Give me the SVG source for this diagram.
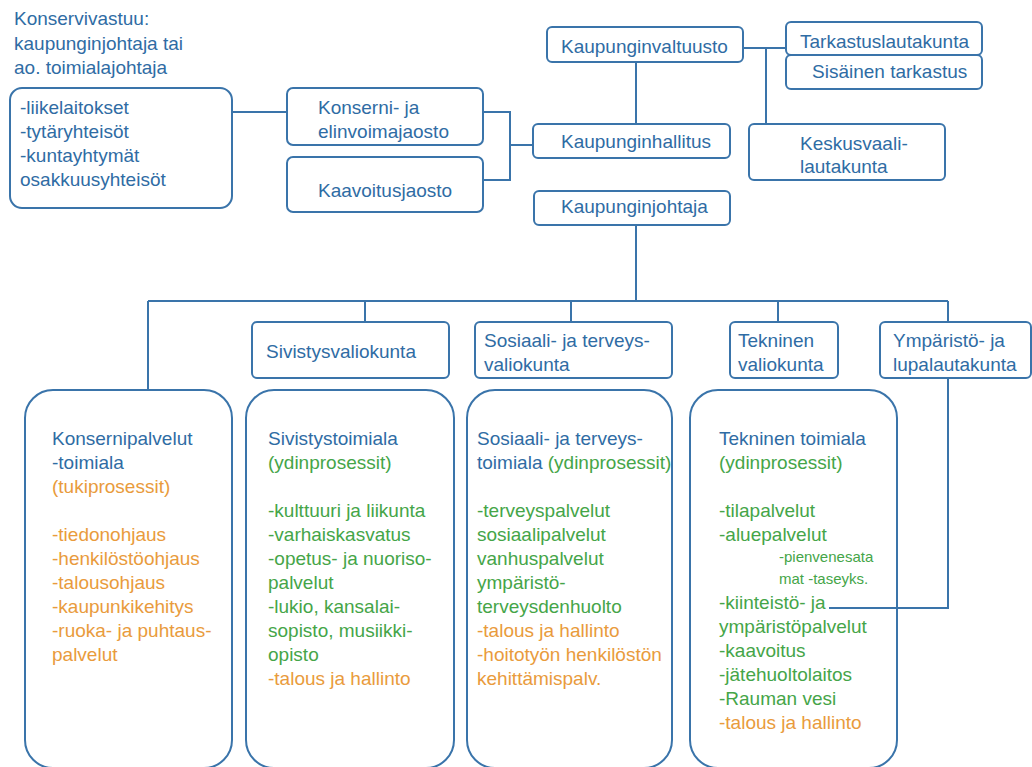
<svg xmlns="http://www.w3.org/2000/svg" width="1032" height="767" viewBox="0 0 1032 767">
<style>
text{font-family:"Liberation Sans",Arial,sans-serif;font-size:19px;fill:#2f6ca4}
.box{fill:#fff;stroke:#3a74aa;stroke-width:2}
.con{fill:none;stroke:#3a74aa;stroke-width:2}
.g{fill:#45a548}
.o{fill:#e99b3c}
.sm{font-size:15px}
</style>
<rect width="1032" height="767" fill="#fff"/>
<g id="title">
<text x="14" y="25">Konservivastuu:</text>
<text x="14" y="50">kaupunginjohtaja tai</text>
<text x="14" y="74">ao. toimialajohtaja</text>
</g>
<g id="n-liikelaitokset">
<rect class="box" x="10" y="88" width="222" height="120" rx="12"/>
<text x="20" y="114">-liikelaitokset</text>
<text x="20" y="138">-tytäryhteisöt</text>
<text x="20" y="162">-kuntayhtymät</text>
<text x="20" y="186">osakkuusyhteisöt</text>
</g>
<g id="n-konserni">
<rect class="box" x="287" y="88" width="196" height="57" rx="6"/>
<text x="318" y="114">Konserni- ja</text>
<text x="318" y="138">elinvoimajaosto</text>
</g>
<g id="n-kaavoitus">
<rect class="box" x="287" y="157" width="196" height="55" rx="6"/>
<text x="318" y="197">Kaavoitusjaosto</text>
</g>
<g id="n-valtuusto">
<rect class="box" x="547" y="27" width="196" height="35" rx="5"/>
<text x="561" y="53">Kaupunginvaltuusto</text>
</g>
<g id="n-tarkastus">
<rect class="box" x="786" y="22" width="196" height="33" rx="5"/>
<text x="800" y="48">Tarkastuslautakunta</text>
</g>
<g id="n-sisainen">
<rect class="box" x="786" y="55" width="196" height="34" rx="5"/>
<text x="812" y="78">Sisäinen tarkastus</text>
</g>
<g id="n-hallitus">
<rect class="box" x="533" y="124" width="197" height="34" rx="5"/>
<text x="561" y="148">Kaupunginhallitus</text>
</g>
<g id="n-keskusvaali">
<rect class="box" x="749" y="124" width="196" height="56" rx="5"/>
<text x="800" y="150">Keskusvaali-</text>
<text x="800" y="173">lautakunta</text>
</g>
<g id="n-johtaja">
<rect class="box" x="534" y="191" width="196" height="34" rx="5"/>
<text x="561" y="213">Kaupunginjohtaja</text>
</g>
<g id="n-sivistysvaliokunta">
<rect class="box" x="252" y="322" width="197" height="56" rx="5"/>
<text x="266" y="358">Sivistysvaliokunta</text>
</g>
<g id="n-sosvaliokunta">
<rect class="box" x="475" y="322" width="197" height="56" rx="5"/>
<text x="484" y="347">Sosiaali- ja terveys-</text>
<text x="484" y="371">valiokunta</text>
</g>
<g id="n-teknvaliokunta">
<rect class="box" x="730" y="322" width="108" height="56" rx="5"/>
<text x="738" y="347">Tekninen</text>
<text x="738" y="371">valiokunta</text>
</g>
<g id="n-ymparisto">
<rect class="box" x="880" y="322" width="151" height="56" rx="5"/>
<text x="893" y="347">Ympäristö- ja</text>
<text x="893" y="371">lupalautakunta</text>
</g>
<g id="n-konsernipalvelut">
<rect class="box" x="25" y="390" width="207" height="378" rx="28"/>
<text x="52" y="445">Konsernipalvelut</text>
<text x="52" y="469">-toimiala</text>
<text x="52" y="493" class="o">(tukiprosessit)</text>
<text x="52" y="541" class="o">-tiedonohjaus</text>
<text x="52" y="565" class="o">-henkilöstöohjaus</text>
<text x="52" y="589" class="o">-talousohjaus</text>
<text x="52" y="613" class="o">-kaupunkikehitys</text>
<text x="52" y="637" class="o">-ruoka- ja puhtaus-</text>
<text x="52" y="661" class="o">palvelut</text>
</g>
<g id="n-sivistystoimiala">
<rect class="box" x="246" y="390" width="208" height="378" rx="28"/>
<text x="268" y="445">Sivistystoimiala</text>
<text x="268" y="469" class="g">(ydinprosessit)</text>
<text x="268" y="517" class="g">-kulttuuri ja liikunta</text>
<text x="268" y="541" class="g">-varhaiskasvatus</text>
<text x="268" y="565" class="g">-opetus- ja nuoriso-</text>
<text x="268" y="589" class="g">palvelut</text>
<text x="268" y="613" class="g">-lukio, kansalai-</text>
<text x="268" y="637" class="g">sopisto, musiikki-</text>
<text x="268" y="661" class="g">opisto</text>
<text x="268" y="685" class="o">-talous ja hallinto</text>
</g>
<g id="n-sosiaalitoimiala">
<rect class="box" x="467" y="390" width="205" height="378" rx="28"/>
<text x="477" y="445">Sosiaali- ja terveys-</text>
<text x="477" y="469">toimiala <tspan class="g">(ydinprosessit)</tspan></text>
<text x="477" y="517" class="g">-terveyspalvelut</text>
<text x="477" y="541" class="g">sosiaalipalvelut</text>
<text x="477" y="565" class="g">vanhuspalvelut</text>
<text x="477" y="589" class="g">ympäristö-</text>
<text x="477" y="613" class="g">terveysdenhuolto</text>
<text x="477" y="637" class="o">-talous ja hallinto</text>
<text x="477" y="661" class="o">-hoitotyön henkilöstön</text>
<text x="477" y="685" class="o">kehittämispalv.</text>
</g>
<g id="n-teknintoimiala">
<rect class="box" x="690" y="390" width="207" height="378" rx="28"/>
<text x="719" y="445">Tekninen toimiala</text>
<text x="719" y="469" class="g">(ydinprosessit)</text>
<text x="719" y="517" class="g">-tilapalvelut</text>
<text x="719" y="541" class="g">-aluepalvelut</text>
<text x="779" y="562" class="g sm">-pienvenesata</text>
<text x="779" y="584" class="g sm">mat -taseyks.</text>
<text x="719" y="609" class="g">-kiinteistö- ja</text>
<text x="719" y="633" class="g">ympäristöpalvelut</text>
<text x="719" y="657" class="g">-kaavoitus</text>
<text x="719" y="681" class="g">-jätehuoltolaitos</text>
<text x="719" y="705" class="g">-Rauman vesi</text>
<text x="719" y="729" class="o">-talous ja hallinto</text>
</g>
<g id="connectors">
<path class="con" d="M232 112H287"/>
<path class="con" d="M483 112H510V180H483M510 145H533"/>
<path class="con" d="M636 62V124"/>
<path class="con" d="M743 48H786M766 48V124"/>
<path class="con" d="M636 225V301M148 301H948M148 301V390M365 301V322M571 301V322M778 301V322M948 301V322"/>
<path class="con" d="M948 378V608H829"/>
</g>
</svg>
